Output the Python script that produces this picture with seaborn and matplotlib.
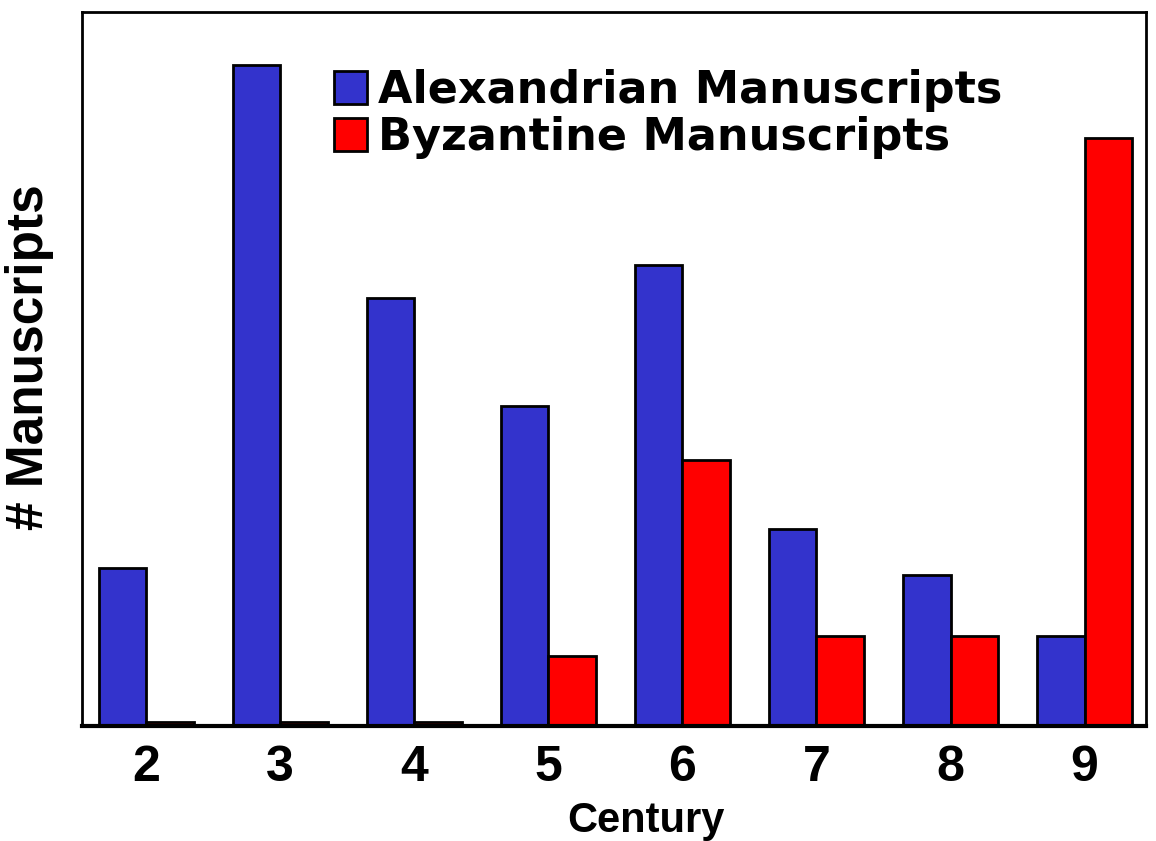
import pandas as pd
import matplotlib.pyplot as plt
import seaborn as sns

# Values (arbitrary units, no y scale shown)
centuries = ["2", "3", "4", "5", "6", "7", "8", "9"]
alexandrian = [15.8, 66.0, 42.7, 31.9, 46.0, 19.7, 15.1, 9.0]
byzantine = [0.4, 0.4, 0.4, 7.0, 26.5, 9.0, 9.0, 58.7]
series = ["Alexandrian Manuscripts", "Byzantine Manuscripts"]
colors = ["#3333cc", "#ff0000"]

df = pd.DataFrame({
    "century": centuries * 2,
    "count": alexandrian + byzantine,
    "type": [series[0]] * len(centuries) + [series[1]] * len(centuries),
})

sns.set_style("white")
plt.rcParams["font.family"] = ["Liberation Sans", "DejaVu Sans"]
plt.rcParams["text.color"] = "black"
plt.rcParams["axes.labelcolor"] = "black"
plt.rcParams["xtick.color"] = "black"

fig = plt.figure(figsize=(11.56, 8.41), dpi=100)
ax = fig.add_axes([0.071, 0.137, 0.92, 0.849])

sns.barplot(data=df, x="century", y="count", hue="type", palette=colors,
            width=0.71, edgecolor="black", linewidth=2, saturation=1, ax=ax)

ax.set_xlim(-0.478, 7.455)
ax.set_ylim(0, 71.3)
ax.set_yticks([])
ax.tick_params(axis="x", length=0, labelsize=36, pad=14)
for lbl in ax.get_xticklabels():
    lbl.set_fontweight("bold")
ax.set_xlabel("Century", fontsize=30, fontweight="bold")
ax.xaxis.set_label_coords(0.53, -0.105)
ax.set_ylabel("# Manuscripts", fontsize=37, fontweight="bold")
ax.yaxis.set_label_coords(-0.026, 0.517)

for s in ax.spines.values():
    s.set_color("black")
    s.set_linewidth(2)
ax.spines["bottom"].set_linewidth(3)

ax.legend(loc="upper left", bbox_to_anchor=(0.22, 0.945), frameon=False,
          prop={"family": "DejaVu Sans", "size": 32, "weight": "bold"},
          handlelength=0.75, handleheight=0.75, handletextpad=0.25,
          labelspacing=0.1, borderaxespad=0, title=None)

plt.savefig("out.png", dpi=100)
